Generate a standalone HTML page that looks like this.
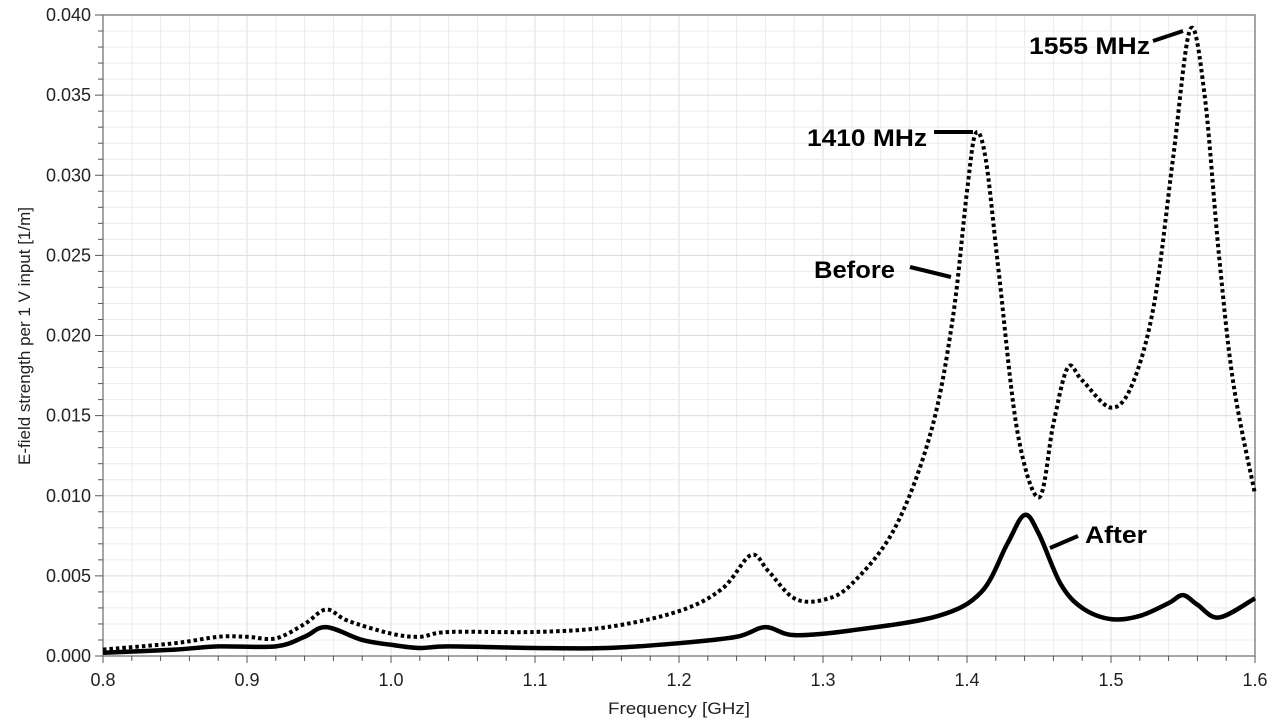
<!DOCTYPE html>
<html><head><meta charset="utf-8"><style>
body{margin:0;background:#fff;}
svg{display:block;font-family:"Liberation Sans",sans-serif;}
</style></head><body>
<svg id="s" width="1280" height="720" xmlns="http://www.w3.org/2000/svg">
<g id="grid"></g>
<rect x="103" y="15" width="1152" height="641" fill="none" stroke="#888" stroke-width="1.5"/>
<g id="ticks"></g>
<path id="before" fill="none" stroke="#000" stroke-width="4" stroke-dasharray="3.5,3"/>
<path id="after" fill="none" stroke="#000" stroke-width="4.5"/>
<g font-family="'Liberation Sans',sans-serif" font-weight="bold" font-size="24" fill="#000">
<text x="807" y="146" textLength="120" lengthAdjust="spacingAndGlyphs">1410 MHz</text>
<text x="1029" y="54" textLength="121" lengthAdjust="spacingAndGlyphs">1555 MHz</text>
<text x="814" y="278" textLength="81" lengthAdjust="spacingAndGlyphs">Before</text>
<text x="1085" y="543" textLength="62" lengthAdjust="spacingAndGlyphs">After</text>
</g>
<g stroke="#000" stroke-width="4">
<line x1="934" y1="132" x2="973" y2="132"/>
<line x1="1153" y1="41" x2="1183" y2="31"/>
<line x1="910" y1="267" x2="951" y2="277"/>
<line x1="1050" y1="548" x2="1078" y2="536"/>
</g>
<text x="679" y="714" font-size="17" text-anchor="middle" fill="#222" textLength="142" lengthAdjust="spacingAndGlyphs">Frequency [GHz]</text>
<text transform="translate(30,336) rotate(-90)" font-size="17" text-anchor="middle" fill="#222">E-field strength per 1 V input [1/m]</text>
</svg>
<script>
var X=f=>103+1440*(f-0.8), Y=v=>656-16025*v;
var g=document.getElementById('grid'),t=document.getElementById('ticks'),h='',k='';
for(var i=0;i<=40;i++){var x=103+i*28.8;var maj=i%5==0;
 h+='<line x1="'+x+'" y1="15" x2="'+x+'" y2="656" stroke="'+(maj?'#dcdcdc':'#ececec')+'" stroke-width="1"/>';
 k+='<line x1="'+x+'" y1="656" x2="'+x+'" y2="'+(maj?663:661)+'" stroke="#555"/>';
 if(maj)k+='<text x="'+x+'" y="686" font-size="18" text-anchor="middle" fill="#222">'+(0.8+i*0.02).toFixed(1)+'</text>';}
for(var j=0;j<=40;j++){var y=656-j*16.025;var maj=j%5==0;
 h+='<line x1="103" y1="'+y+'" x2="1255" y2="'+y+'" stroke="'+(maj?'#dcdcdc':'#ececec')+'" stroke-width="1"/>';
 k+='<line x1="'+(maj?95:98)+'" y1="'+y+'" x2="103" y2="'+y+'" stroke="#555"/>';
 if(maj)k+='<text x="91" y="'+(y+6)+'" font-size="18" text-anchor="end" fill="#222">'+(j*0.001).toFixed(3)+'</text>';}
g.innerHTML=h;t.innerHTML=k;
function path(p){var q=p.map(a=>[X(a[0]),Y(a[1])]);var d='M'+q[0][0]+','+q[0][1];
 for(var i=0;i<q.length-1;i++){var p0=q[Math.max(0,i-1)],p1=q[i],p2=q[i+1],p3=q[Math.min(q.length-1,i+2)];
 d+=' C'+(p1[0]+(p2[0]-p0[0])/6)+','+(p1[1]+(p2[1]-p0[1])/6)+' '+(p2[0]-(p3[0]-p1[0])/6)+','+(p2[1]-(p3[1]-p1[1])/6)+' '+p2[0]+','+p2[1];}
 return d;}
var B=[[0.8,0.0004],[0.85,0.0008],[0.88,0.0012],[0.9,0.0012],[0.92,0.0011],[0.94,0.002],[0.955,0.0029],[0.97,0.0022],[1.0,0.0014],[1.02,0.0012],[1.04,0.0015],[1.1,0.0015],[1.15,0.0018],[1.2,0.0028],[1.23,0.0042],[1.25,0.0063],[1.262,0.0053],[1.28,0.0036],[1.3,0.0035],[1.32,0.0045],[1.35,0.008],[1.375,0.014],[1.39,0.021],[1.4,0.029],[1.406,0.0326],[1.413,0.031],[1.422,0.024],[1.435,0.014],[1.45,0.0099],[1.46,0.0145],[1.47,0.018],[1.48,0.0172],[1.5,0.0155],[1.515,0.017],[1.53,0.022],[1.543,0.031],[1.555,0.0391],[1.565,0.035],[1.575,0.025],[1.585,0.017],[1.6,0.0101]];
var A=[[0.8,0.0002],[0.85,0.0004],[0.88,0.0006],[0.92,0.0006],[0.94,0.0012],[0.955,0.0018],[0.98,0.001],[1.0,0.0007],[1.02,0.0005],[1.04,0.0006],[1.1,0.0005],[1.15,0.0005],[1.2,0.0008],[1.24,0.0012],[1.26,0.0018],[1.28,0.0013],[1.32,0.0016],[1.38,0.0025],[1.41,0.004],[1.428,0.007],[1.44,0.0088],[1.45,0.0076],[1.465,0.0045],[1.48,0.003],[1.5,0.0023],[1.52,0.0025],[1.54,0.0033],[1.55,0.0038],[1.56,0.0032],[1.575,0.0024],[1.6,0.0036]];
document.getElementById('before').setAttribute('d',path(B));
document.getElementById('after').setAttribute('d',path(A));
</script>
</body></html>
